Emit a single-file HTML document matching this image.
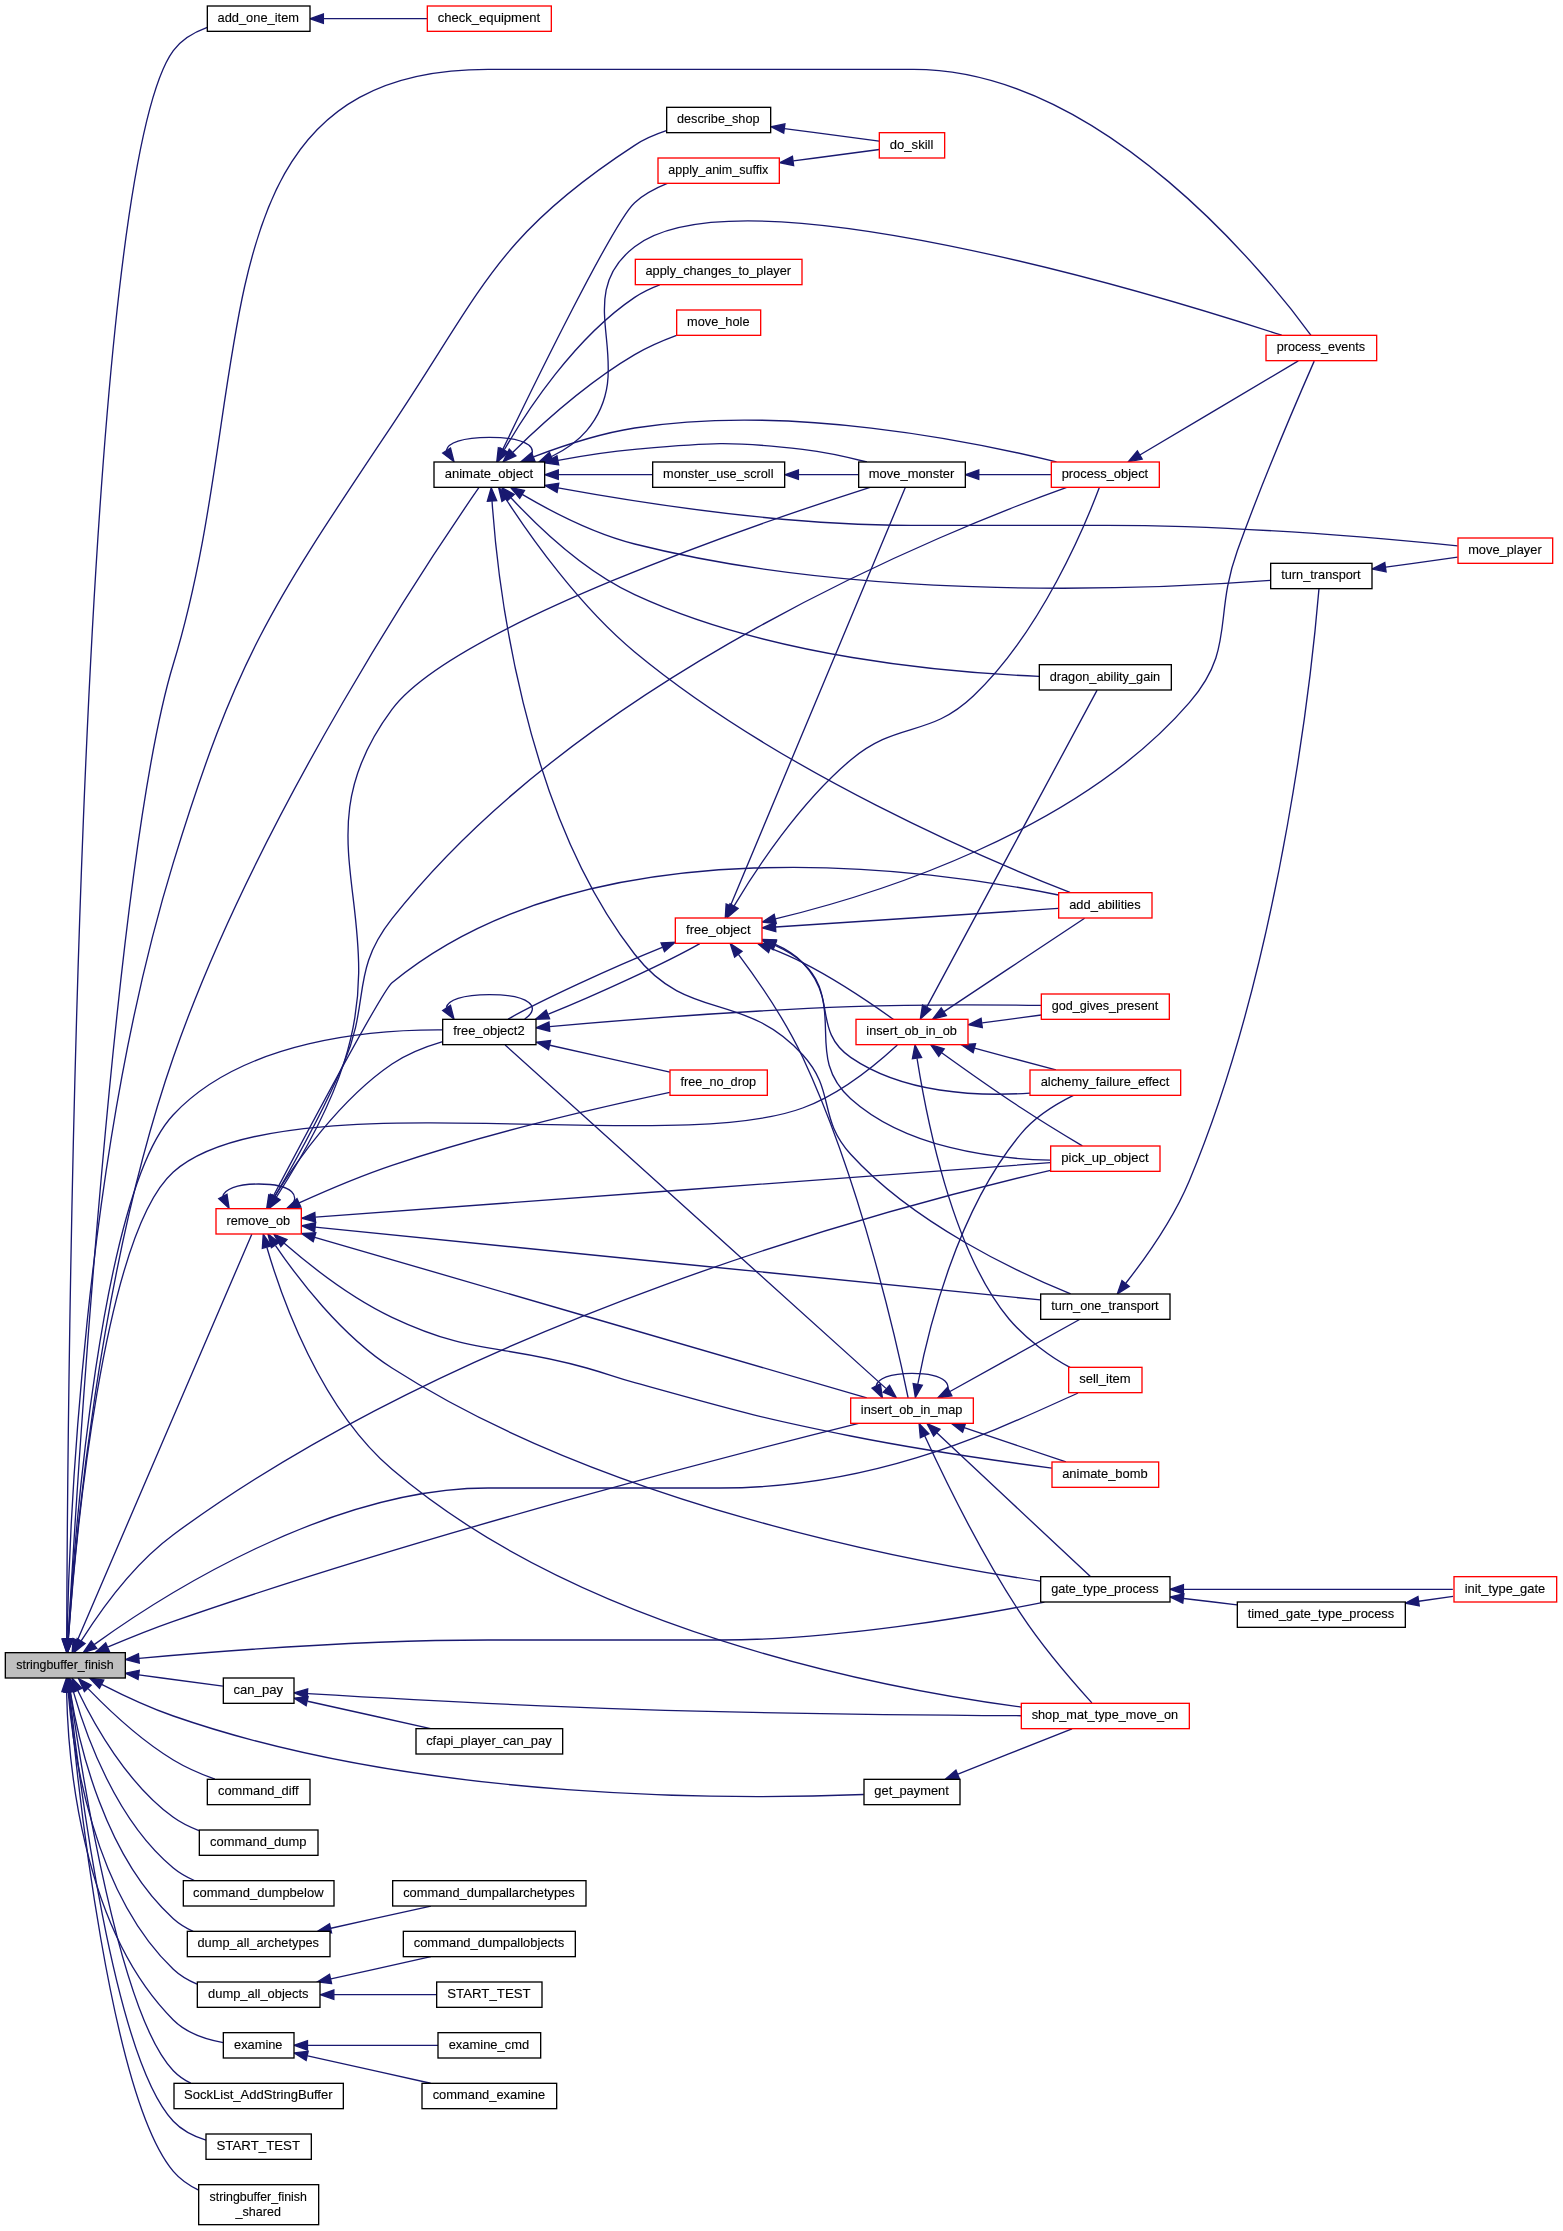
<!DOCTYPE html>
<html><head><meta charset="utf-8"><title>stringbuffer_finish caller graph</title>
<style>html,body{margin:0;padding:0;background:#fff}svg{display:block;will-change:transform}text{fill:#000;stroke:#000;stroke-width:0.12px}</style></head>
<body>
<svg width="1563" height="2231" viewBox="0 0 1563 2231">
<g fill="none" stroke="#191970" stroke-width="1.333">
<path d="M66.72,1638.79C67.32,1439.67 74.99,183.76 173.33,50.67 181.59,39.49 194.25,32.23 207.27,27.49"/>
<path d="M68.28,1638.73C74.16,1552.49 98.16,1273.67 173.33,1057.33 258.24,812.99 436.97,548.07 479.01,487.48"/>
<path d="M68.13,1638.77C76,1499.71 115.13,854.57 173.33,664 260.67,378.03 188.99,69.33 488,69.33 488,69.33 488,69.33 913.33,69.33 1104.19,69.33 1271.12,280.79 1310.99,335.31"/>
<path d="M138.85,1674.92C167.67,1678.76 199.49,1682.99 222.89,1686.09"/>
<path d="M88.05,1688.63C108.35,1709.6 140.52,1740.11 173.33,1760 186.15,1767.76 201.16,1774.21 214.92,1779.23"/>
<path d="M77.75,1690.47C93.93,1724.27 127.17,1783.97 173.33,1817.33 180.99,1822.87 189.87,1827.2 198.92,1830.6"/>
<path d="M73.43,1691.91C85.8,1735.23 116.25,1820.93 173.33,1868 179.56,1873.13 186.81,1877.23 194.39,1880.49"/>
<path d="M67.04,1638.67C69.12,1536 82.88,1157.31 173.33,862.67 237.12,654.92 271.29,606.04 392,425.33 483.47,288.39 496.65,235.17 634.67,145.33 644.23,139.11 655.4,134.35 666.37,130.73"/>
<path d="M70.31,1691.87C78.76,1743.27 104.53,1856.77 173.33,1918.67 179.11,1923.87 185.92,1927.99 193.12,1931.28"/>
<path d="M68.17,1691.84C72.93,1750.49 92.64,1892.16 173.33,1969.33 180.05,1975.76 188.33,1980.56 197.05,1984.15"/>
<path d="M66.6,1691.68C67.92,1756.87 80.56,1927.15 173.33,2020 186.47,2033.15 206.16,2039.52 223.17,2042.59"/>
<path d="M68.16,1638.75C74.25,1539.51 100.52,1192.43 173.33,1114.67 243.8,1039.43 373.71,1029.45 442.51,1029.92"/>
<path d="M108.11,1646.96C127.68,1638.61 151.51,1628.93 173.33,1621.33 426.39,1533.31 737.25,1453.49 858.64,1423.37"/>
<path d="M139.01,1658.33C222.88,1650.84 365.31,1640 488,1640 488,1640 488,1640 720,1640 835.67,1640 969.24,1617.13 1044.45,1602.12"/>
<path d="M68.41,1638.79C75.12,1545.56 102.48,1235.35 173.33,1172 278.12,1078.29 670.97,1157.16 802.67,1108 840.89,1093.73 878.17,1062.56 897.35,1044.89"/>
<path d="M81.17,1640.93C99.43,1612.05 133.29,1564.17 173.33,1534.67 466.19,1318.87 900.25,1204.99 1050.52,1170.31"/>
<path d="M94.12,1644.61C158.95,1597.83 328.12,1488 488,1488 488,1488 488,1488 720,1488 880,1488 1000,1428 1078,1393"/>
<path d="M101.64,1684.31C122.08,1694.79 148.64,1707.39 173.33,1716 422.12,1802.77 744.61,1799.36 863.76,1794.52"/>
<path d="M77.55,1639.99C113.17,1557.03 225.56,1295.33 251.81,1234.2"/>
<path d="M70.24,1691.85C81.65,1772.89 119.69,2015.08 173.33,2070.67 178.31,2075.81 184.28,2079.93 190.73,2083.21"/>
<path d="M69.39,1691.67C78.91,1779.07 113.49,2057.59 173.33,2121.33 181.99,2130.55 193.85,2136.45 205.95,2140.23"/>
<path d="M68.97,1691.93C77.56,1785.32 110.51,2096.93 173.33,2171.37 180.11,2179.4 189.09,2185.49 198.65,2190.13"/>
<path d="M323.47,18.67C355.87,18.67 395.11,18.67 427.13,18.67"/>
<path d="M446.41,450.31C447.64,443.01 461.95,437.33 489.33,437.33 530.09,437.33 541.88,449.91 524.68,461.65"/>
<path d="M506.04,499.25C529.97,536.07 579.21,606.05 634.67,652 779.05,771.63 988.68,860.51 1069.99,892.44"/>
<path d="M502.69,449.59C533.48,385.76 614.11,220.93 634.67,202.67 643.99,194.39 655.68,188.15 667.32,183.48"/>
<path d="M504.29,449.76C526.56,411.39 574.36,337.99 634.67,297.33 642.25,292.21 650.93,288.09 659.73,284.8"/>
<path d="M510.93,497.69C536.75,525.43 584.11,571.2 634.67,594.67 769.19,657.11 945.43,672.63 1039.01,676.33"/>
<path d="M558.68,474.67C588.45,474.67 623.21,474.67 652.6,474.67"/>
<path d="M558.09,460.31C582.13,455.85 609.49,451.53 634.67,449.33 709.05,442.84 728.49,440.75 802.67,449.33 824.09,451.81 847.44,456.97 866.93,461.99"/>
<path d="M533.48,456.88C561.68,446.15 599.71,433.52 634.67,428 787.93,403.79 971.47,440.99 1056.47,461.96"/>
<path d="M551.63,456.52C564.71,450.16 577.37,441.73 586.67,430.67 640.99,365.92 567.79,298.33 634.67,246.67 737.23,167.44 1152.76,293.4 1281.67,335.24"/>
<path d="M512.6,452.41C539.41,426.19 587.13,382.65 634.67,354.67 647.67,347.01 662.83,340.53 676.59,335.44"/>
<path d="M558,487.84C640.71,502.85 785.44,525.33 910.67,525.33 910.67,525.33 910.67,525.33 1106.67,525.33 1233.85,525.33 1383.47,538.43 1457.57,545.79"/>
<path d="M492.04,501.16C497.33,578.76 522.2,809.81 634.67,954.25 688.08,1022.86 744.01,990.53 802.67,1054.74 835.83,1091.04 817.53,1117.94 850.67,1154.27 914.41,1224.18 1017.87,1272.42 1070.67,1293.91"/>
<path d="M522.16,494.44C550.43,511.03 593.65,533.63 634.67,544 866.48,602.63 1156.16,588.99 1270.4,580.36"/>
<path d="M793.25,160.93C823.08,156.97 855.97,152.6 879.33,149.49"/>
<path d="M798.81,474.67C818.93,474.67 840.08,474.67 858.49,474.67"/>
<path d="M978.97,474.67C1002.6,474.67 1028.92,474.67 1051.29,474.67"/>
<path d="M1139.83,454.97C1184,428.76 1260.89,383.09 1298.31,360.88"/>
<path d="M1125.76,1283.27C1144.67,1259.09 1173.09,1219.38 1189.33,1180.66 1283.64,955.78 1313.44,654.34 1318.97,588.93"/>
<path d="M1385.76,567.19C1409.39,563.88 1435.79,560.2 1457.63,557.15"/>
<path d="M307.63,1701.25C343.41,1709.2 392.61,1720.13 430.59,1728.57"/>
<path d="M307.81,1693.6C379.01,1697.83 517.13,1705.57 634.67,1709.33 770.08,1713.67 927.55,1715.19 1021.32,1715.72"/>
<path d="M784.41,128.56C816.35,132.8 853.48,137.73 879.17,141.15"/>
<path d="M330.95,1928.24C363.09,1921.09 400.59,1912.76 430.88,1906.03"/>
<path d="M330.95,1978.91C363.09,1971.76 400.59,1963.43 430.88,1956.69"/>
<path d="M334,1994.67C367.49,1994.67 406.24,1994.67 436.51,1994.67"/>
<path d="M307.96,2045.33C346.11,2045.33 399.32,2045.33 437.99,2045.33"/>
<path d="M307.63,2055.92C343.41,2063.87 392.61,2074.8 430.59,2083.24"/>
<path d="M446.41,1007.64C447.64,1000.35 461.95,994.67 489.33,994.67 530.09,994.67 541.88,1007.24 524.68,1018.99"/>
<path d="M549.83,1045.23C587.27,1053.6 635.04,1064.27 669.97,1072.08"/>
<path d="M548.37,1014.16C598.47,993.81 667.83,961.84 699.84,943.57"/>
<path d="M549.6,1026.57C620.85,1020.32 744.41,1010.4 850.67,1006.67 915.49,1004.39 989.72,1004.73 1040.99,1005.44"/>
<path d="M775.72,926.99C851.99,921.96 987.47,913.03 1058.17,908.36"/>
<path d="M730.64,905.24C766.05,820.52 879.29,549.71 905.31,487.49"/>
<path d="M734.15,905.84C755.59,869.97 799.28,803.2 850.67,760 897.73,720.43 928.73,738.33 973.33,696 1040.99,631.8 1085.27,524.91 1099.24,487.81"/>
<path d="M775.35,918.93C873.19,895.32 1076.96,832.83 1189.33,702.67 1235.63,649.04 1213.27,617.29 1237.33,550.67 1263.53,478.12 1300.16,393.19 1314.21,361.13"/>
<path d="M662.23,947.45C611.93,967.76 540.63,1000.56 508.08,1019.13"/>
<path d="M775.03,945.43C784.99,949.84 794.72,955.48 802.67,962.67 837.65,994.32 811.75,1030.68 850.67,1057.33 902.81,1093.05 975.75,1096.77 1029.97,1093.09"/>
<path d="M738.4,954.36C756.79,978.96 784.79,1019.11 802.67,1057.33 861.91,1184 898.57,1351.16 908.15,1398"/>
<path d="M770.21,948.24C781.09,952.56 792.41,957.45 802.67,962.67 836.24,979.72 872.55,1004.48 893.36,1019.33"/>
<path d="M774.85,944.21C785.09,948.73 794.97,954.73 802.67,962.67 847.31,1008.67 802.99,1055.83 850.67,1098.67 905.64,1148.05 993.72,1158.84 1050.21,1160.17"/>
<path d="M949.95,1391.47C988.07,1370.29 1046.72,1337.72 1079.56,1319.48"/>
<path d="M924.67,1435.81C942.87,1475.24 980.72,1553.43 1021.33,1614.67 1043.67,1648.35 1074.91,1684.19 1091.88,1702.89"/>
<path d="M885.93,1388.37C807.64,1317.79 566.72,1100.56 505.12,1045.04"/>
<path d="M917.77,1384.25C927.83,1331.33 956.65,1210.72 1021.33,1133.33 1035.25,1116.67 1056.15,1103.93 1073.43,1095.4"/>
<path d="M876.16,1385.8C877.65,1378.75 889.6,1373.33 912,1373.33 946.12,1373.33 955.99,1385.91 941.59,1397.65"/>
<path d="M964.13,1427.72C996.12,1438.45 1036.73,1452.08 1065.95,1461.89"/>
<path d="M936.81,1432.67C977.12,1470.44 1058.24,1546.45 1090.41,1576.6"/>
<path d="M1183.89,1589.33C1263.27,1589.33 1384.61,1589.33 1452.83,1589.33"/>
<path d="M1183.71,1598.48C1201.03,1600.53 1219.48,1602.73 1237.04,1604.81"/>
<path d="M1418.75,1601.24C1430.57,1599.59 1442.28,1597.96 1453.05,1596.45"/>
<path d="M943.99,1011.64C983.61,985.31 1051.47,940.24 1084.61,918.21"/>
<path d="M926.71,1007.12C964.17,937.43 1069.23,742.01 1097.12,690.12"/>
<path d="M974.41,1048.23C1000.79,1055.24 1031.17,1063.32 1055.91,1069.88"/>
<path d="M982.2,1022.85C1001.49,1020.29 1022.35,1017.52 1041.27,1015"/>
<path d="M941.67,1052.68C963.27,1068.25 993.85,1089.93 1021.33,1108 1041.73,1121.41 1065.55,1135.88 1082.36,1145.91"/>
<path d="M917.03,1058.36C926.03,1114.59 951.3,1249.8 1009,1319 1026,1339 1052,1358 1070,1367.3"/>
<path d="M957.96,1774.21C992.93,1760.27 1040.73,1741.21 1071.99,1728.76"/>
<path d="M272.95,1196.8C304.33,1137.43 382.67,990.33 392,982.67 591.47,819.03 935.35,869.85 1058.49,894.99"/>
<path d="M276.37,1197.05C295.83,1166.92 327.73,1113.29 344,1062.67 392.49,911.79 297.29,836.4 392,709.33 453.57,626.72 758.89,523.01 870.08,487.37"/>
<path d="M274.55,1196.95C292.41,1166.32 322.97,1111.81 344,1062.67 370.53,1000.64 350.24,971.65 392,918.67 584.07,674.97 949.43,529.43 1066.75,487.41"/>
<path d="M315.12,1227.17C465.25,1242.23 880.84,1283.92 1040.44,1299.93"/>
<path d="M266.85,1247.21C281.41,1297.28 320.15,1407.87 392,1469.33 579.64,1629.83 877.64,1687.75 1021.25,1707.11"/>
<path d="M274.6,1196.49C296.09,1161.97 339.45,1099.73 392,1064 407.11,1053.72 425.79,1046.52 442.64,1041.59"/>
<path d="M299.15,1202.87C325.11,1191.09 360.12,1176.08 392,1165.33 488.92,1132.67 605.85,1105.95 669.81,1092.36"/>
<path d="M314.77,1237.27C441.25,1274.08 751.67,1364.4 866.77,1397.89"/>
<path d="M283.93,1243.07C309.11,1264.83 350.72,1297.81 392,1317.33 472.83,1355.55 500.64,1343.67 586.67,1368 608.13,1374.07 613.16,1376.73 634.67,1382.67 729.99,1408.97 753.69,1416.67 850.67,1436 919.83,1449.79 1000.45,1461.32 1051.84,1468.11"/>
<path d="M275.53,1245.51C297.6,1277.99 341.07,1335.37 392,1368 605.64,1504.84 909.51,1561.89 1040.21,1581.11"/>
<path d="M315.41,1217.21C468.99,1205.81 898.71,1173.91 1050.25,1162.65"/>
<path d="M222.83,1196.47C224.32,1189.41 236.27,1184 258.67,1184 292.79,1184 302.65,1196.57 288.25,1208.32"/>
</g>
<g fill="#191970" stroke="#191970" stroke-width="1.333">
<polygon points="71.39,1639.28 66.68,1652.6 62.05,1639.25"/>
<polygon points="72.91,1639.53 67.39,1652.55 63.6,1638.93"/>
<polygon points="72.79,1639.17 67.37,1652.23 63.47,1638.65"/>
<polygon points="138.03,1679.52 125.43,1673.15 139.27,1670.27"/>
<polygon points="84.37,1691.52 78.59,1678.64 91.15,1685.11"/>
<polygon points="73.4,1692.17 72.05,1678.11 81.88,1688.27"/>
<polygon points="68.77,1692.57 69.79,1678.49 77.77,1690.13"/>
<polygon points="71.69,1639 66.8,1652.25 62.37,1638.84"/>
<polygon points="65.59,1691.92 68.21,1678.04 74.81,1690.52"/>
<polygon points="63.51,1692.13 67.23,1678.51 72.83,1691.48"/>
<polygon points="61.93,1691.49 66.47,1678.12 71.27,1691.4"/>
<polygon points="72.79,1639.44 67.35,1652.47 63.48,1638.88"/>
<polygon points="109.39,1651.49 95.31,1652.49 105.69,1642.92"/>
<polygon points="139.27,1663 125.56,1659.55 138.43,1653.71"/>
<polygon points="73.05,1639.28 67.48,1652.25 63.75,1638.64"/>
<polygon points="85.08,1643.48 74.12,1652.39 77.13,1638.59"/>
<polygon points="96.76,1648.47 83.25,1652.57 91.25,1640.93"/>
<polygon points="99.43,1688.41 89.77,1678.11 103.76,1680.13"/>
<polygon points="81.72,1642.12 72.17,1652.52 73.15,1638.43"/>
<polygon points="65.56,1692.13 68.36,1678.29 74.81,1690.87"/>
<polygon points="64.71,1691.83 67.93,1678.08 73.99,1690.84"/>
<polygon points="64.31,1692.12 67.76,1678.43 73.6,1691.29"/>
<polygon points="323.37,23.33 310.04,18.67 323.37,14"/>
<polygon points="450.48,447.97 453.99,461.65 442.71,453.15"/>
<polygon points="501.91,501.47 498.65,487.72 509.77,496.44"/>
<polygon points="506.76,451.91 496.77,461.91 498.35,447.87"/>
<polygon points="508.13,452.45 497.51,461.77 500.01,447.87"/>
<polygon points="507.36,500.69 501.84,487.69 514.27,494.41"/>
<polygon points="558.29,479.33 544.96,474.67 558.29,470"/>
<polygon points="558.71,464.93 544.73,462.85 556.96,455.77"/>
<polygon points="535,461.29 520.88,461.8 531.6,452.6"/>
<polygon points="553.13,460.95 539.04,462 549.4,452.4"/>
<polygon points="515.83,455.79 503.07,461.85 509.25,449.16"/>
<polygon points="557.05,492.41 544.79,485.41 558.75,483.24"/>
<polygon points="487.37,501.29 491.23,487.71 496.69,500.73"/>
<polygon points="519.68,498.39 510.65,487.52 524.49,490.39"/>
<polygon points="793.64,165.59 779.8,162.72 792.41,156.33"/>
<polygon points="798.41,479.33 785.08,474.67 798.41,470"/>
<polygon points="978.77,479.33 965.44,474.67 978.77,470"/>
<polygon points="1142.15,459.03 1128.29,461.83 1137.37,451"/>
<polygon points="1129.27,1286.35 1117.33,1293.89 1121.96,1280.55"/>
<polygon points="1386.07,571.85 1372.21,569.08 1384.77,562.61"/>
<polygon points="306.13,1705.71 294.13,1698.25 308.16,1696.59"/>
<polygon points="307.11,1698.23 294.08,1692.77 307.67,1688.91"/>
<polygon points="783.69,133.17 771.09,126.79 784.93,123.92"/>
<polygon points="331.56,1932.88 317.53,1931.21 329.53,1923.76"/>
<polygon points="331.56,1983.55 317.53,1981.88 329.53,1974.43"/>
<polygon points="333.84,1999.33 320.51,1994.67 333.84,1990"/>
<polygon points="307.47,2050 294.13,2045.33 307.47,2040.67"/>
<polygon points="306.13,2060.37 294.13,2052.92 308.16,2051.25"/>
<polygon points="450.48,1005.31 453.99,1018.99 442.71,1010.48"/>
<polygon points="548.53,1049.72 536.53,1042.25 550.56,1040.61"/>
<polygon points="549.56,1018.71 535.45,1019.32 546.11,1010.04"/>
<polygon points="549.77,1031.24 536.08,1027.77 548.95,1021.95"/>
<polygon points="775.8,931.67 762.19,927.88 775.19,922.35"/>
<polygon points="734.75,907.49 725.29,918 726.13,903.89"/>
<polygon points="738.05,908.41 727.29,917.56 730,903.71"/>
<polygon points="776.31,923.49 762.27,922 774.17,914.41"/>
<polygon points="661.05,942.89 675.17,942.33 664.49,951.57"/>
<polygon points="773.11,949.68 762.39,940.48 776.51,941"/>
<polygon points="734.59,957.05 730.24,943.61 742.03,951.41"/>
<polygon points="768.51,952.59 757.73,943.45 771.85,943.87"/>
<polygon points="773.08,948.53 762.31,939.39 776.43,939.81"/>
<polygon points="951.84,1395.73 937.87,1397.8 947.51,1387.47"/>
<polygon points="920.37,1437.64 919.08,1423.57 928.87,1433.76"/>
<polygon points="889.49,1385.29 896.27,1397.69 883.24,1392.23"/>
<polygon points="922.33,1385.28 915.37,1397.57 913.15,1383.63"/>
<polygon points="880.32,1383.68 882.41,1397.65 872.07,1388.04"/>
<polygon points="962.61,1432.13 951.45,1423.47 965.59,1423.28"/>
<polygon points="933.59,1436.04 927.04,1423.52 939.96,1429.23"/>
<polygon points="1183.4,1594 1170.07,1589.33 1183.4,1584.67"/>
<polygon points="1182.79,1603.07 1170.09,1596.87 1183.89,1593.8"/>
<polygon points="1419.23,1605.89 1405.37,1603.11 1417.93,1596.64"/>
<polygon points="946.35,1015.67 932.67,1019.16 941.19,1007.89"/>
<polygon points="930.77,1009.43 920.35,1018.96 922.55,1005"/>
<polygon points="973.13,1052.72 961.44,1044.79 975.53,1043.69"/>
<polygon points="982.32,1027.55 968.48,1024.67 981.08,1018.29"/>
<polygon points="938.75,1056.32 930.68,1044.72 944.21,1048.76"/>
<polygon points="912.37,1058.81 915,1044.93 921.6,1057.43"/>
<polygon points="959.36,1778.68 945.24,1779.28 955.91,1770.01"/>
<polygon points="277.03,1199.05 266.67,1208.67 268.77,1194.69"/>
<polygon points="280.09,1199.88 268.87,1208.45 272.29,1194.75"/>
<polygon points="278.51,1199.41 267.72,1208.53 270.47,1194.67"/>
<polygon points="314.63,1231.81 301.85,1225.76 315.6,1222.52"/>
<polygon points="262.33,1248.36 263.24,1234.25 271.32,1245.84"/>
<polygon points="278.36,1199.28 267.45,1208.25 270.39,1194.43"/>
<polygon points="300.89,1207.2 286.84,1208.52 297,1198.72"/>
<polygon points="313.19,1241.67 301.69,1233.47 315.8,1232.71"/>
<polygon points="280.81,1246.53 273.89,1234.21 286.99,1239.53"/>
<polygon points="271.39,1247.71 267.91,1234.01 279.16,1242.55"/>
<polygon points="315.49,1221.89 301.85,1218.23 314.8,1212.59"/>
<polygon points="226.99,1194.35 229.08,1208.32 218.73,1198.71"/>
</g>
<g stroke-width="1.333" font-family="'Liberation Sans', sans-serif" font-size="13.333" text-anchor="middle">
<rect x="5.33" y="1652.67" width="120" height="25.33" fill="#bfbfbf" stroke="#000000"/>
<text x="64.93" y="1668.73" textLength="97.3" lengthAdjust="spacingAndGlyphs">stringbuffer_finish</text>
<rect x="207.33" y="6" width="102.67" height="25.33" fill="#ffffff" stroke="#000000"/>
<text x="258.27" y="22.07" textLength="81.5" lengthAdjust="spacingAndGlyphs">add_one_item</text>
<rect x="434" y="462" width="110.67" height="25.33" fill="#ffffff" stroke="#000000"/>
<text x="488.93" y="478.07" textLength="88.5" lengthAdjust="spacingAndGlyphs">animate_object</text>
<rect x="1266" y="335.33" width="110.67" height="25.33" fill="#ffffff" stroke="#ff0000"/>
<text x="1320.93" y="351.4" textLength="88.5" lengthAdjust="spacingAndGlyphs">process_events</text>
<rect x="223.33" y="1678" width="70.67" height="25.33" fill="#ffffff" stroke="#000000"/>
<text x="258.27" y="1694.07" textLength="49.5" lengthAdjust="spacingAndGlyphs">can_pay</text>
<rect x="207.33" y="1779.33" width="102.67" height="25.33" fill="#ffffff" stroke="#000000"/>
<text x="258.27" y="1795.4" textLength="80.6" lengthAdjust="spacingAndGlyphs">command_diff</text>
<rect x="199.33" y="1830" width="118.67" height="25.33" fill="#ffffff" stroke="#000000"/>
<text x="258.27" y="1846.07" textLength="96.5" lengthAdjust="spacingAndGlyphs">command_dump</text>
<rect x="183.33" y="1880.67" width="150.67" height="25.33" fill="#ffffff" stroke="#000000"/>
<text x="258.27" y="1896.73" textLength="130.5" lengthAdjust="spacingAndGlyphs">command_dumpbelow</text>
<rect x="666.67" y="107.33" width="104" height="25.33" fill="#ffffff" stroke="#000000"/>
<text x="718.27" y="123.4" textLength="82.5" lengthAdjust="spacingAndGlyphs">describe_shop</text>
<rect x="187.33" y="1931.33" width="142.67" height="25.33" fill="#ffffff" stroke="#000000"/>
<text x="258.27" y="1947.4" textLength="121.5" lengthAdjust="spacingAndGlyphs">dump_all_archetypes</text>
<rect x="197.33" y="1982" width="122.67" height="25.33" fill="#ffffff" stroke="#000000"/>
<text x="258.27" y="1998.07" textLength="100.5" lengthAdjust="spacingAndGlyphs">dump_all_objects</text>
<rect x="223.33" y="2032.67" width="70.67" height="25.33" fill="#ffffff" stroke="#000000"/>
<text x="258.27" y="2048.73" textLength="48.5" lengthAdjust="spacingAndGlyphs">examine</text>
<rect x="442.67" y="1019.33" width="93.33" height="25.33" fill="#ffffff" stroke="#000000"/>
<text x="488.93" y="1035.4" textLength="71.5" lengthAdjust="spacingAndGlyphs">free_object2</text>
<rect x="850.67" y="1398" width="122.67" height="25.33" fill="#ffffff" stroke="#ff0000"/>
<text x="911.6" y="1414.07" textLength="101.5" lengthAdjust="spacingAndGlyphs">insert_ob_in_map</text>
<rect x="1040.67" y="1576.67" width="129.33" height="25.33" fill="#ffffff" stroke="#000000"/>
<text x="1104.93" y="1592.73" textLength="107.5" lengthAdjust="spacingAndGlyphs">gate_type_process</text>
<rect x="856" y="1019.33" width="112" height="25.33" fill="#ffffff" stroke="#ff0000"/>
<text x="911.6" y="1035.4" textLength="90.5" lengthAdjust="spacingAndGlyphs">insert_ob_in_ob</text>
<rect x="1050.67" y="1146" width="109.33" height="25.33" fill="#ffffff" stroke="#ff0000"/>
<text x="1104.93" y="1162.07" textLength="87.5" lengthAdjust="spacingAndGlyphs">pick_up_object</text>
<rect x="1068.67" y="1367.33" width="73.33" height="25.33" fill="#ffffff" stroke="#ff0000"/>
<text x="1104.93" y="1383.4" textLength="51.5" lengthAdjust="spacingAndGlyphs">sell_item</text>
<rect x="864" y="1779.33" width="96" height="25.33" fill="#ffffff" stroke="#000000"/>
<text x="911.6" y="1795.4" textLength="74.5" lengthAdjust="spacingAndGlyphs">get_payment</text>
<rect x="216" y="1208.67" width="85.33" height="25.33" fill="#ffffff" stroke="#ff0000"/>
<text x="258.27" y="1224.73" textLength="63.5" lengthAdjust="spacingAndGlyphs">remove_ob</text>
<rect x="174" y="2083.33" width="169.33" height="25.33" fill="#ffffff" stroke="#000000"/>
<text x="258.27" y="2099.4" textLength="148.6" lengthAdjust="spacingAndGlyphs">SockList_AddStringBuffer</text>
<rect x="206" y="2134" width="105.33" height="25.33" fill="#ffffff" stroke="#000000"/>
<text x="258.27" y="2150.07" textLength="83.5" lengthAdjust="spacingAndGlyphs">START_TEST</text>
<rect x="198.67" y="2184.67" width="120" height="40" fill="#ffffff" stroke="#000000"/>
<text x="258.27" y="2200.67" textLength="97.3" lengthAdjust="spacingAndGlyphs">stringbuffer_finish</text>
<text x="258.27" y="2215.67" textLength="45.3" lengthAdjust="spacingAndGlyphs">_shared</text>
<rect x="427.33" y="6" width="124" height="25.33" fill="#ffffff" stroke="#ff0000"/>
<text x="488.93" y="22.07" textLength="102.5" lengthAdjust="spacingAndGlyphs">check_equipment</text>
<rect x="1058.67" y="892.67" width="93.33" height="25.33" fill="#ffffff" stroke="#ff0000"/>
<text x="1104.93" y="908.73" textLength="71.5" lengthAdjust="spacingAndGlyphs">add_abilities</text>
<rect x="658" y="158" width="121.33" height="25.33" fill="#ffffff" stroke="#ff0000"/>
<text x="718.27" y="174.07" textLength="99.8" lengthAdjust="spacingAndGlyphs">apply_anim_suffix</text>
<rect x="635.33" y="259.33" width="166.67" height="25.33" fill="#ffffff" stroke="#ff0000"/>
<text x="718.27" y="275.4" textLength="145.5" lengthAdjust="spacingAndGlyphs">apply_changes_to_player</text>
<rect x="1039.33" y="664.67" width="132" height="25.33" fill="#ffffff" stroke="#000000"/>
<text x="1104.93" y="680.73" textLength="110.5" lengthAdjust="spacingAndGlyphs">dragon_ability_gain</text>
<rect x="652.67" y="462" width="132" height="25.33" fill="#ffffff" stroke="#000000"/>
<text x="718.27" y="478.07" textLength="110.5" lengthAdjust="spacingAndGlyphs">monster_use_scroll</text>
<rect x="858.67" y="462" width="106.67" height="25.33" fill="#ffffff" stroke="#000000"/>
<text x="911.6" y="478.07" textLength="85.5" lengthAdjust="spacingAndGlyphs">move_monster</text>
<rect x="1051.33" y="462" width="108" height="25.33" fill="#ffffff" stroke="#ff0000"/>
<text x="1104.93" y="478.07" textLength="86.5" lengthAdjust="spacingAndGlyphs">process_object</text>
<rect x="676.67" y="310" width="84" height="25.33" fill="#ffffff" stroke="#ff0000"/>
<text x="718.27" y="326.07" textLength="62.5" lengthAdjust="spacingAndGlyphs">move_hole</text>
<rect x="1458" y="538" width="94.67" height="25.33" fill="#ffffff" stroke="#ff0000"/>
<text x="1504.93" y="554.07" textLength="73.5" lengthAdjust="spacingAndGlyphs">move_player</text>
<rect x="1040.67" y="1294" width="129.33" height="25.33" fill="#ffffff" stroke="#000000"/>
<text x="1104.93" y="1310.07" textLength="107.5" lengthAdjust="spacingAndGlyphs">turn_one_transport</text>
<rect x="1270.67" y="563.33" width="101.33" height="25.33" fill="#ffffff" stroke="#000000"/>
<text x="1320.93" y="579.4" textLength="79.5" lengthAdjust="spacingAndGlyphs">turn_transport</text>
<rect x="879.33" y="132.67" width="65.33" height="25.33" fill="#ffffff" stroke="#ff0000"/>
<text x="911.6" y="148.73" textLength="43.5" lengthAdjust="spacingAndGlyphs">do_skill</text>
<rect x="416" y="1728.67" width="146.67" height="25.33" fill="#ffffff" stroke="#000000"/>
<text x="488.93" y="1744.73" textLength="125.5" lengthAdjust="spacingAndGlyphs">cfapi_player_can_pay</text>
<rect x="1021.33" y="1703.33" width="168" height="25.33" fill="#ffffff" stroke="#ff0000"/>
<text x="1104.93" y="1719.4" textLength="146.5" lengthAdjust="spacingAndGlyphs">shop_mat_type_move_on</text>
<rect x="392.67" y="1880.67" width="193.33" height="25.33" fill="#ffffff" stroke="#000000"/>
<text x="488.93" y="1896.73" textLength="171.5" lengthAdjust="spacingAndGlyphs">command_dumpallarchetypes</text>
<rect x="403.33" y="1931.33" width="172" height="25.33" fill="#ffffff" stroke="#000000"/>
<text x="488.93" y="1947.4" textLength="150.5" lengthAdjust="spacingAndGlyphs">command_dumpallobjects</text>
<rect x="436.67" y="1982" width="105.33" height="25.33" fill="#ffffff" stroke="#000000"/>
<text x="488.93" y="1998.07" textLength="83.5" lengthAdjust="spacingAndGlyphs">START_TEST</text>
<rect x="438" y="2032.67" width="102.67" height="25.33" fill="#ffffff" stroke="#000000"/>
<text x="488.93" y="2048.73" textLength="80.5" lengthAdjust="spacingAndGlyphs">examine_cmd</text>
<rect x="422" y="2083.33" width="134.67" height="25.33" fill="#ffffff" stroke="#000000"/>
<text x="488.93" y="2099.4" textLength="112.5" lengthAdjust="spacingAndGlyphs">command_examine</text>
<rect x="670" y="1070" width="97.33" height="25.33" fill="#ffffff" stroke="#ff0000"/>
<text x="718.27" y="1086.07" textLength="75.5" lengthAdjust="spacingAndGlyphs">free_no_drop</text>
<rect x="675.33" y="918" width="86.67" height="25.33" fill="#ffffff" stroke="#ff0000"/>
<text x="718.27" y="934.07" textLength="64.5" lengthAdjust="spacingAndGlyphs">free_object</text>
<rect x="1041.33" y="994" width="128" height="25.33" fill="#ffffff" stroke="#ff0000"/>
<text x="1104.93" y="1010.07" textLength="106.5" lengthAdjust="spacingAndGlyphs">god_gives_present</text>
<rect x="1030" y="1070" width="150.67" height="25.33" fill="#ffffff" stroke="#ff0000"/>
<text x="1104.93" y="1086.07" textLength="128.6" lengthAdjust="spacingAndGlyphs">alchemy_failure_effect</text>
<rect x="1052" y="1462" width="106.67" height="25.33" fill="#ffffff" stroke="#ff0000"/>
<text x="1104.93" y="1478.07" textLength="85.5" lengthAdjust="spacingAndGlyphs">animate_bomb</text>
<rect x="1454" y="1576.67" width="102.67" height="25.33" fill="#ffffff" stroke="#ff0000"/>
<text x="1504.93" y="1592.73" textLength="80.5" lengthAdjust="spacingAndGlyphs">init_type_gate</text>
<rect x="1237.33" y="1602" width="168" height="25.33" fill="#ffffff" stroke="#000000"/>
<text x="1320.93" y="1618.07" textLength="146.5" lengthAdjust="spacingAndGlyphs">timed_gate_type_process</text>
</g>
</svg>
</body></html>
